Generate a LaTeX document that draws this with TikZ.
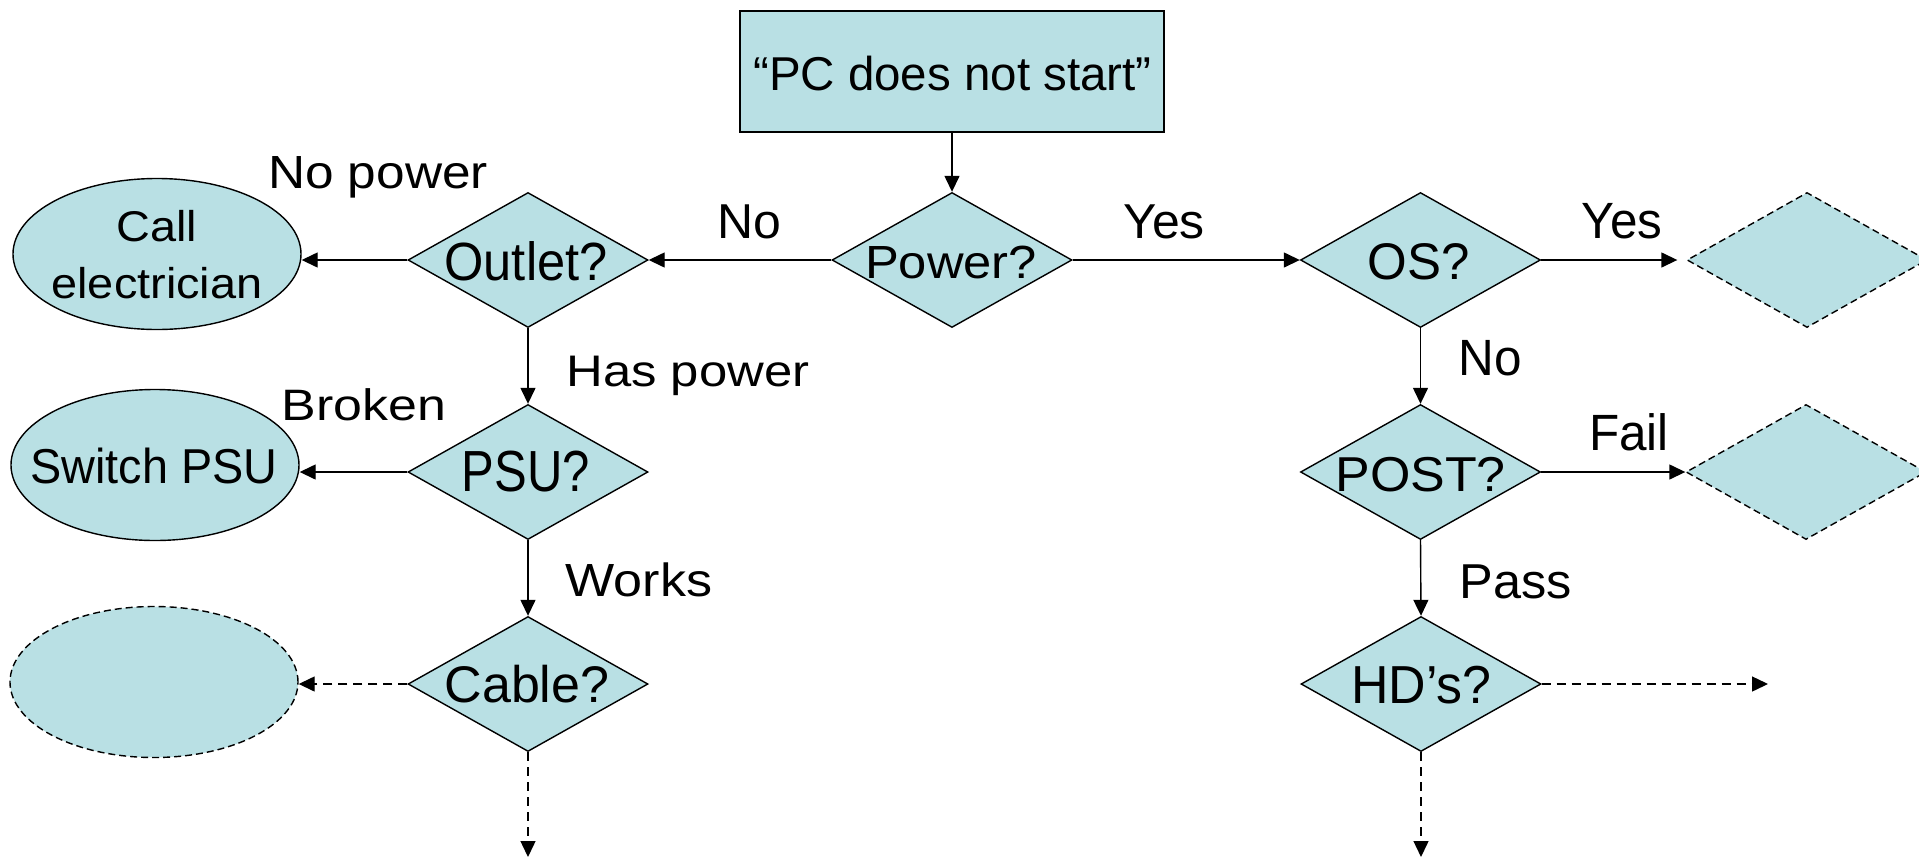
\documentclass[tikz,border=0pt]{standalone}
\usepackage{fontspec}
\setmainfont{Liberation Sans}
\usepackage{graphicx}
\usetikzlibrary{shapes.geometric,arrows.meta}
\definecolor{fillc}{RGB}{185,224,228}
\newcommand{\txt}[3]{{\fontsize{#1pt}{#1pt}\selectfont\scalebox{#2}[1]{#3}}}
\begin{document}
\begin{tikzpicture}[x=1pt,y=-1pt,
  dia/.style={diamond, draw, fill=fillc, line width=1.4pt, minimum width=240pt, minimum height=135pt, inner sep=0pt},
  dashdia/.style={dia, dash pattern=on 7pt off 4pt},
  ell/.style={ellipse, draw, fill=fillc, line width=1.4pt, minimum width=288pt, minimum height=151pt, inner sep=0pt},
  dashell/.style={ell, dash pattern=on 7pt off 4pt},
  box/.style={rectangle, draw, fill=fillc, line width=1.4pt, minimum width=424pt, minimum height=121pt, inner sep=0pt},
  t/.style={inner sep=0pt, anchor=base},
  arr/.style={line width=1.4pt, -{Triangle[length=16pt,width=15pt]}},
  darr/.style={arr, dash pattern=on 9pt off 6pt},
]
\clip (0,0) rectangle (1919,857);
\fill[white] (0,0) rectangle (1919,857);

% shapes
\node[box] (start) at (952,71.5) {};
\node[dia] (power) at (952,260) {};
\node[dia] (outlet) at (528,260) {};
\node[dia] (psu) at (528,472) {};
\node[dia] (cable) at (528,684) {};
\node[dia] (os) at (1420.5,260) {};
\node[dia] (post) at (1420.5,472) {};
\node[dia] (hd) at (1421,684) {};
\node[dashdia] (d1) at (1807,260) {};
\node[dashdia] (d2) at (1806,472) {};
\node[ell] (call) at (157,254) {};
\node[ell] (sw) at (155,465) {};
\node[dashell] (de) at (154,682) {};

\coordinate (c1) at (528,857);
\coordinate (c2) at (1421,857);
\coordinate (c3) at (1768,684);

% connectors
\draw[arr] (start.south) -- (power.north);
\draw[arr] (power.west) -- (outlet.east);
\draw[arr] (power.east) -- (os.west);
\draw[arr, shorten >=9pt] (os.east) -- (d1.west);
\draw[arr] (post.east) -- (d2.west);
\draw[arr] (outlet.west) -- (call.east |- outlet.west);
\draw[arr] (psu.west) -- (sw.east |- psu.west);
\draw[darr] (cable.west) -- (de.east |- cable.west);
\draw[arr] (outlet.south) -- (psu.north);
\draw[arr] (psu.south) -- (cable.north);
\draw[darr] (cable.south) -- (c1);
\draw[arr] (os.south) -- (post.north);
\draw[arr] (post.south) -- (hd.north);
\draw[darr] (hd.south) -- (c2);
\draw[darr] (hd.east) -- (c3);

% texts
\node[t] (tstart) at (952.5,90) {\txt{47.5}{1.0}{“PC does not start”}};
\node[t] (tpower) at (951,278.3) {\txt{46.5}{1.09}{Power?}};
\node[t] (toutlet) at (526,280.5) {\txt{53.8}{0.94}{Outlet?}};
\node[t] (tpsu) at (526,491.7) {\txt{58}{0.845}{PSU?}};
\node[t] (tcable) at (527,702.5) {\txt{51.5}{1.01}{Cable?}};
\node[t] (tos) at (1418.6,279) {\txt{51.5}{0.99}{OS?}};
\node[t] (tpost) at (1420.6,491.7) {\txt{49}{1.06}{POST?}};
\node[t] (thd) at (1421.6,703.3) {\txt{53.5}{0.97}{HD’s?}};
\node[t] (tcall1) at (157,241.7) {\txt{43}{1.09}{Call}};
\node[t] (tcall2) at (157,298.3) {\txt{43}{1.09}{electrician}};
\node[t] (tsw) at (154,483.3) {\txt{49}{0.955}{Switch PSU}};

\node[t] (lnopower) at (378,188.3) {\txt{46.5}{1.105}{No power}};
\node[t] (lno1) at (749.6,238.3) {\txt{49}{1.02}{No}};
\node[t] (lyes1) at (1164,238.3) {\txt{49}{1.02}{Yes}};
\node[t] (lyes2) at (1622,238.3) {\txt{51}{0.97}{Yes}};
\node[t] (lno2) at (1490,375) {\txt{51}{0.97}{No}};
\node[t] (lhas) at (688,386.7) {\txt{44.2}{1.15}{Has power}};
\node[t] (lbroken) at (364,420) {\txt{44}{1.18}{Broken}};
\node[t] (lworks) at (639,596.7) {\txt{46.5}{1.12}{Works}};
\node[t] (lpass) at (1516,598.3) {\txt{49}{1.03}{Pass}};
\node[t] (lfail) at (1629,450) {\txt{51}{0.97}{Fail}};
\end{tikzpicture}
\end{document}
